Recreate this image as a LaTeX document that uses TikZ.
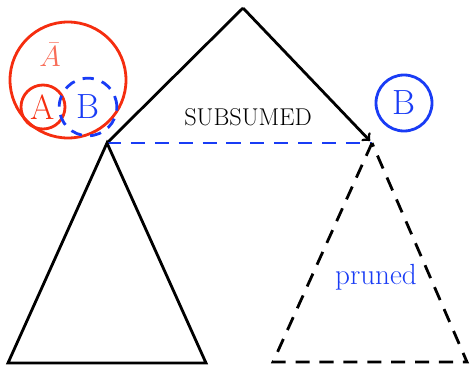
\documentclass[tikz,border=0pt]{standalone}
\usepackage{amsmath}
\usepackage{amssymb}
\usepackage{tikz}
\usepackage{xcolor}
\definecolor{setred}{RGB}{245,45,15}
\definecolor{setblue}{RGB}{25,60,245}

\begin{document}
\begin{tikzpicture}[line width=2pt]
\tikzset{longdash/.style={dash pattern=on 10pt off 7pt}}
\useasboundingbox (0,0) rectangle (11.75,9.175);
\coordinate (top) at (6.075,8.975);
\coordinate (par) at (2.675,5.6);
\coordinate (sub) at (9.3,5.6);
\draw (par)--(top);
\draw[->,shorten >=2pt] (top)--(sub);
\draw[setblue,longdash] (par)--(sub);
\draw (par)--(0.2,0.1)--(5.15,0.1)--cycle;
\draw[longdash] (sub)--(6.825,0.125)--(11.675,0.125)--cycle;
\draw[setred] (1.7,7.175) circle[radius=1.45];
\draw[setred] (1.075,6.5) circle[radius=0.55];
\draw[setblue,dash pattern=on 8pt off 6pt] (2.2,6.5) circle[radius=0.72];
\node[setred!70,inner sep=0pt] (abar) at (1.25,7.8) {\huge $\bar{A}$};
\node[setred] (a) at (1.075,6.5) {\Huge A};
\node[setblue] (b) at (2.2,6.5) {\Huge B};
\draw[setblue] (10.1,6.6) circle[radius=0.7];
\node[setblue] (b2) at (10.1,6.6) {\Huge B};
\node (subsumed) at (6.2,6.25) {\LARGE SUBSUMED};
\node[setblue] (pruned) at (9.4,2.25) {\huge pruned};
\end{tikzpicture}
\end{document}
